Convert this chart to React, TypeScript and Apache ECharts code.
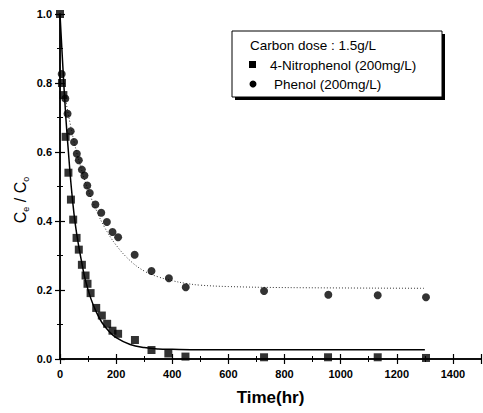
import React, { useEffect, useRef } from "react";
import * as echarts from "echarts";

// 4-Nitrophenol measurements (time hr, Ce/Co)
const nitroTime = [0, 7, 12, 20, 30, 39, 47, 59, 67, 78, 91, 98, 109, 129, 149, 168, 187, 207, 267, 326, 386, 447, 727, 955, 1132, 1304];
const nitroRatio = [1.0, 0.8, 0.765, 0.644, 0.54, 0.462, 0.404, 0.351, 0.317, 0.273, 0.242, 0.218, 0.191, 0.148, 0.126, 0.102, 0.082, 0.073, 0.055, 0.026, 0.016, 0.007, 0.005, 0.005, 0.005, 0.003];

// Phenol measurements
const phenolTime = [6, 19, 27, 38, 50, 60, 67, 78, 87, 97, 106, 126, 147, 167, 187, 207, 266, 326, 388, 448, 727, 956, 1132, 1304];
const phenolRatio = [0.826, 0.755, 0.711, 0.66, 0.629, 0.595, 0.576, 0.549, 0.532, 0.503, 0.481, 0.448, 0.424, 0.397, 0.368, 0.353, 0.302, 0.255, 0.234, 0.208, 0.197, 0.186, 0.185, 0.179];

// Fitted curves
const nitroFitTime = [0, 10, 20, 30, 40, 50, 60, 75, 90, 110, 130, 150, 175, 200, 250, 300, 350, 400, 500, 1300];
const nitroFitRatio = [1.0, 0.85, 0.71, 0.6, 0.5, 0.42, 0.36, 0.29, 0.23, 0.175, 0.135, 0.105, 0.08, 0.062, 0.042, 0.033, 0.029, 0.028, 0.027, 0.027];
const phenolFitTime = [20, 50, 80, 100, 130, 160, 200, 250, 300, 350, 400, 450, 500, 600, 800, 1300];
const phenolFitRatio = [0.75, 0.63, 0.54, 0.49, 0.43, 0.38, 0.33, 0.285, 0.255, 0.238, 0.227, 0.219, 0.214, 0.21, 0.207, 0.205];

const xTicks = { min: 0, max: 1500, interval: 200 };
const yTicks = { min: 0, max: 1.0, interval: 0.2 };

const legendTitle = "Carbon dose : 1.5g/L";
const nitroName = "4-Nitrophenol (200mg/L)";
const phenolName = "Phenol (200mg/L)";

const zip = (a: number[], b: number[]) => a.map((v, i) => [v, b[i]]);

export default function App() {
  const ref = useRef<HTMLDivElement>(null);
  useEffect(() => {
    if (!ref.current) return;
    const chart = echarts.init(ref.current, undefined, { renderer: "svg" });
    const font = "Liberation Sans, Arial, sans-serif";
    const axisCommon = {
      axisLine: { show: true, lineStyle: { color: "#000", width: 1.5 } },
      axisTick: { show: true, inside: true, length: 5, lineStyle: { color: "#000", width: 1.2 } },
      minorTick: { show: true, splitNumber: 2, length: 3, lineStyle: { color: "#000", width: 1 } },
      splitLine: { show: false },
    };
    chart.setOption({
      animation: false,
      backgroundColor: "#fff",
      textStyle: { fontFamily: font },
      grid: { left: 60, top: 14, right: 2, bottom: 54, containLabel: false },
      xAxis: [
        {
          type: "value",
          ...xTicks,
          ...axisCommon,
          axisLabel: {
            color: "#000",
            fontSize: 11,
            fontWeight: "bold",
            margin: 9,
            showMaxLabel: false,
            fontFamily: font,
            formatter: (v: number) => String(v),
          },
          name: "Time(hr)",
          nameLocation: "middle",
          nameGap: 30,
          nameTextStyle: { color: "#000", fontSize: 17, fontWeight: "bold", fontFamily: font },
        },
        {
          type: "value",
          position: "top",
          ...xTicks,
          ...axisCommon,
          axisLabel: { show: false },
        },
      ],
      yAxis: [
        {
          type: "value",
          ...yTicks,
          ...axisCommon,
          axisLabel: {
            color: "#000",
            fontSize: 11,
            fontWeight: "bold",
            margin: 8,
            fontFamily: font,
            formatter: (v: number) => v.toFixed(1),
          },
        },
        {
          type: "value",
          position: "right",
          ...yTicks,
          ...axisCommon,
          axisLabel: { show: false },
        },
      ],
      series: [
        {
          name: nitroName + " fit",
          type: "line",
          data: zip(nitroFitTime, nitroFitRatio),
          smooth: 0.4,
          showSymbol: false,
          lineStyle: { color: "#000", width: 1.5 },
          z: 2,
        },
        {
          name: phenolName + " fit",
          type: "line",
          data: zip(phenolFitTime, phenolFitRatio),
          smooth: 0.4,
          showSymbol: false,
          lineStyle: { color: "#333", width: 1, type: [1, 2] },
          z: 2,
        },
        {
          name: nitroName,
          type: "scatter",
          data: zip(nitroTime, nitroRatio),
          symbol: "rect",
          symbolSize: 8,
          itemStyle: { color: "#000" },
          z: 3,
        },
        {
          name: phenolName,
          type: "scatter",
          data: zip(phenolTime, phenolRatio),
          symbol: "circle",
          symbolSize: 8,
          itemStyle: { color: "#000" },
          z: 3,
        },
      ],
      graphic: [
        {
          type: "text",
          x: 20,
          y: 200,
          rotation: Math.PI / 2,
          style: {
            text: "{c|C}{s|e}{c| / C}{s|o}",
            align: "center",
            verticalAlign: "middle",
            rich: {
              c: { fontSize: 16, fontFamily: font, fill: "#000", lineHeight: 20, verticalAlign: "middle" },
              s: { fontSize: 9, fontFamily: font, fill: "#000", lineHeight: 20, verticalAlign: "bottom", padding: [6, 0, 0, 0] },
            },
          },
          z: 12,
        },
        { type: "rect", shape: { x: 235, y: 34, width: 210, height: 66 }, style: { fill: "#000" }, z: 10 },
        { type: "rect", shape: { x: 232, y: 31, width: 210, height: 66 }, style: { fill: "#fff", stroke: "#000", lineWidth: 1 }, z: 11 },
        { type: "text", x: 250, y: 45, style: { text: legendTitle, font: `13.5px ${font}`, fill: "#000", verticalAlign: "middle" }, z: 12 },
        { type: "rect", shape: { x: 249, y: 61, width: 7, height: 7 }, style: { fill: "#000" }, z: 12 },
        { type: "text", x: 270, y: 65, style: { text: nitroName, font: `13.5px ${font}`, fill: "#000", verticalAlign: "middle" }, z: 12 },
        { type: "circle", shape: { cx: 253, cy: 84, r: 3.5 }, style: { fill: "#000" }, z: 12 },
        { type: "text", x: 274, y: 84, style: { text: phenolName, font: `13.5px ${font}`, fill: "#000", verticalAlign: "middle" }, z: 12 },
      ],
    });
    return () => chart.dispose();
  }, []);
  return <div ref={ref} style={{ width: 483, height: 413, position: "absolute", left: 0, top: 0 }} />;
}
